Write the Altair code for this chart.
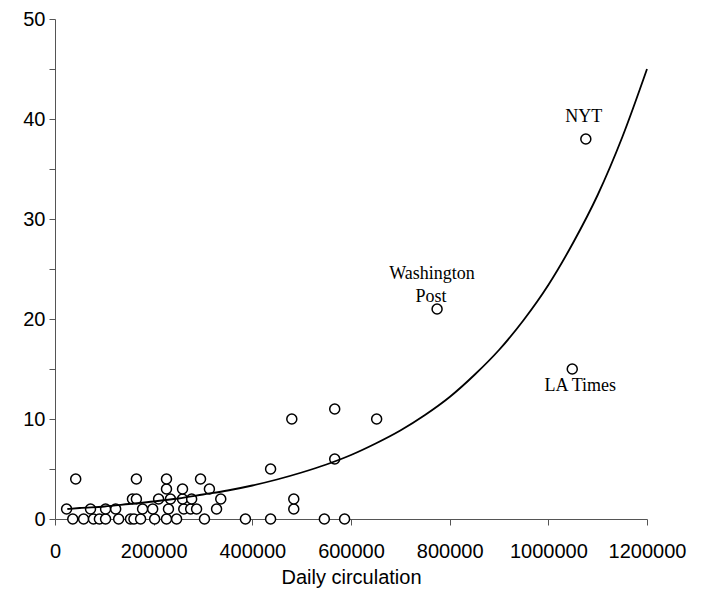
import altair as alt
import pandas as pd

# ---- data ----
circ_x = [36000, 58000, 78000, 90000, 102500, 129000, 153000, 160000, 173500, 202000,
          226000, 246500, 303000, 386000, 437000, 546000, 587000,
          23500, 72000, 102500, 123000, 177500, 198000, 230000, 261000, 275000, 287000,
          327500, 484000,
          157000, 165000, 210000, 234000, 258500, 277000, 336000, 484000,
          226000, 258500, 313000,
          42000, 165000, 226000, 295000,
          437000, 567000, 480000, 652000, 567000]
circ_y = [0, 0, 0, 0, 0, 0, 0, 0, 0, 0,
          0, 0, 0, 0, 0, 0, 0,
          1, 1, 1, 1, 1, 1, 1, 1, 1, 1,
          1, 1,
          2, 2, 2, 2, 2, 2, 2, 2,
          3, 3, 3,
          4, 4, 4, 4,
          5, 6, 10, 10, 11]

named = ["NYT", "Washington Post", "LA Times"]
named_x = [1076000, 774500, 1048500]
named_y = [38, 21, 15]

trend_x = [25000, 50000, 100000, 150000, 200000, 250000, 300000, 350000, 400000,
           450000, 500000, 550000, 600000, 650000, 700000, 750000, 800000, 850000,
           900000, 950000, 1000000, 1050000, 1100000, 1150000, 1200000]
trend_y = [1.0, 1.1, 1.25, 1.5, 1.75, 2.05, 2.45, 2.85, 3.35,
           3.95, 4.65, 5.45, 6.4, 7.55, 8.85, 10.4, 12.2, 14.4,
           16.9, 19.9, 23.4, 27.6, 32.4, 38.2, 45.0]

x_ticks = [0, 200000, 400000, 600000, 800000, 1000000, 1200000]
y_ticks = [0, 5, 10, 15, 20, 25, 30, 35, 40, 45, 50]

# ---- tables ----
pts = pd.DataFrame({"x": circ_x + named_x, "y": circ_y + named_y,
                    "name": [""] * len(circ_x) + named})
trend = pd.DataFrame({"x": trend_x, "y": trend_y})
lab = pd.DataFrame({"x": named_x, "y": named_y, "name": named})

xs = alt.Scale(domain=[0, 1200000], nice=False, zero=False)
ys = alt.Scale(domain=[0, 50], nice=False, zero=False)

x_axis = alt.Axis(values=x_ticks, format="d", title="Daily circulation", grid=False,
                  labelFont="Liberation Sans", labelFontSize=20, labelColor="black",
                  titleFont="Liberation Sans", titleFontSize=20, titleFontWeight="normal",
                  titleColor="black", tickSize=6, tickColor="#555", domainColor="#555",
                  labelPadding=16, titlePadding=6, labelFlush=False)
y_axis = alt.Axis(values=y_ticks, labelExpr="datum.value % 10 == 0 ? datum.label : ''",
                  title=None, grid=False, labelFont="Liberation Sans", labelFontSize=20,
                  labelColor="black", tickSize=6, tickColor="#555", domainColor="#555",
                  labelPadding=4, labelFlush=False)

X = alt.X("x:Q", scale=xs, axis=x_axis)
Y = alt.Y("y:Q", scale=ys, axis=y_axis)

points = alt.Chart(pts).mark_point(shape="circle", fill="white", fillOpacity=1, opacity=1,
                                   stroke="black", strokeWidth=1.5, size=100).encode(x=X, y=Y)

line = alt.Chart(trend).mark_line(color="black", strokeWidth=1.8,
                                  interpolate="monotone").encode(x=X, y=Y)

tfont = dict(font="Liberation Serif", fontSize=18, color="black", align="center",
             baseline="alphabetic")

nyt = alt.Chart(lab).transform_filter("datum.name == 'NYT'").mark_text(
    dx=-2, dy=-17, **tfont).encode(x=X, y=Y, text="name:N")
wp1 = alt.Chart(lab).transform_filter("datum.name == 'Washington Post'").transform_calculate(
    t="split(datum.name, ' ')[0]").mark_text(dx=-5, dy=-30, **tfont).encode(x=X, y=Y, text="t:N")
wp2 = alt.Chart(lab).transform_filter("datum.name == 'Washington Post'").transform_calculate(
    t="split(datum.name, ' ')[1]").mark_text(dx=-6, dy=-7, **tfont).encode(x=X, y=Y, text="t:N")
la = alt.Chart(lab).transform_filter("datum.name == 'LA Times'").mark_text(
    dx=8, dy=22, **tfont).encode(x=X, y=Y, text="name:N")

chart = alt.layer(points, line, nyt, wp1, wp2, la).properties(
    width=592, height=500, autosize="none",
    padding={"left": 47, "top": 11, "right": 50, "bottom": 70},
    background="white",
).configure_view(stroke=None)

chart.save("out.html", embed_options={"renderer": "svg", "actions": False})
